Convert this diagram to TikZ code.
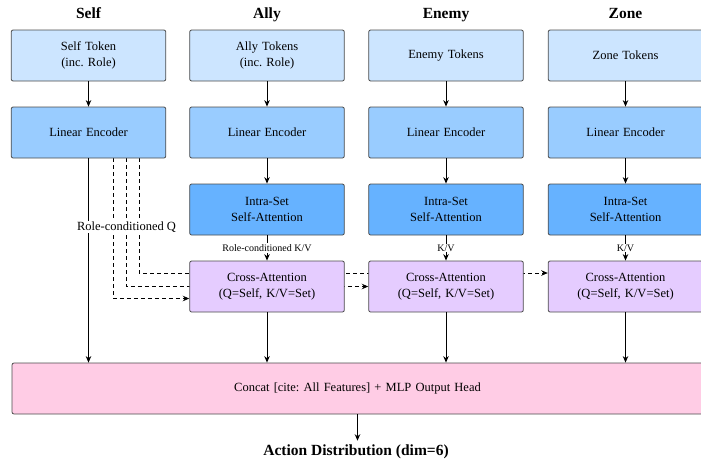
\documentclass[tikz,border=0pt]{standalone}
\usepackage{fontspec}
\setmainfont{Liberation Serif}
\usetikzlibrary{arrows.meta,positioning,backgrounds}
\frenchspacing

\definecolor{tokblue}{RGB}{204,229,255}
\definecolor{encblue}{RGB}{153,204,255}
\definecolor{attblue}{RGB}{102,178,255}
\definecolor{crosslilac}{RGB}{229,204,255}
\definecolor{headpink}{RGB}{255,204,229}

\begin{document}
\begin{tikzpicture}[x=1pt, y=1pt]
    % Stili per i nodi
    \tikzstyle{base}=[rectangle, draw=black!70, line width=0.8pt, rounded corners=2pt, minimum width=153pt, minimum height=51pt, text width=148pt, align=center, font=\fontsize{12.5}{16}\selectfont]
    \tikzstyle{token}=[base, fill=tokblue]
    \tikzstyle{encoder}=[base, fill=encblue]
    \tikzstyle{intra}=[base, fill=attblue]
    \tikzstyle{cross}=[base, fill=crosslilac]
    \tikzstyle{head}=[base, fill=headpink, minimum width=691pt, text width=600pt]
    \tikzstyle{title}=[anchor=base, font=\fontsize{15.5}{18}\selectfont\bfseries]
    \tikzstyle{kvlabel}=[fill=white, inner sep=1pt, font=\fontsize{10}{12}\selectfont]
    \tikzstyle{arrow}=[-{Stealth[length=6.5pt, width=5.5pt]}, line width=1pt, black]
    \tikzstyle{qline}=[-{Stealth[length=6.5pt, width=5.5pt]}, line width=0.9pt, black, dash pattern=on 4pt off 3pt]

    \useasboundingbox (0,0) rectangle (701,-466);

    % Titoli delle colonne
    \node[title] (tself) at (88.5,-18) {Self};
    \node[title] (tally) at (267,-18) {Ally};
    \node[title] (tenemy) at (446,-18) {Enemy};
    \node[title] (tzone) at (625.5,-18) {Zone};

    % Token di ingresso
    \node[token] (selftok) at (88.5,-55.5) {Self Token\\(inc. Role)};
    \node[token] (allytok) at (267,-55.5) {Ally Tokens\\(inc. Role)};
    \node[token] (enemytok) at (446,-55.5) {Enemy Tokens};
    \node[token] (zonetok) at (625.5,-55.5) {Zone Tokens};

    % Encoder lineari
    \node[encoder] (selfenc) at (88.5,-132.5) {Linear Encoder};
    \node[encoder] (allyenc) at (267,-132.5) {Linear Encoder};
    \node[encoder] (enemyenc) at (446,-132.5) {Linear Encoder};
    \node[encoder] (zoneenc) at (625.5,-132.5) {Linear Encoder};

    % Self-attention interna all'insieme
    \node[intra] (allyintra) at (267,-209.5) {Intra-Set\\Self-Attention};
    \node[intra] (enemyintra) at (446,-209.5) {Intra-Set\\Self-Attention};
    \node[intra] (zoneintra) at (625.5,-209.5) {Intra-Set\\Self-Attention};

    % Cross-attention
    \node[cross] (allycross) at (267,-286.5) {Cross-Attention\\(Q=Self, K/V=Set)};
    \node[cross] (enemycross) at (446,-286.5) {Cross-Attention\\(Q=Self, K/V=Set)};
    \node[cross] (zonecross) at (625.5,-286.5) {Cross-Attention\\(Q=Self, K/V=Set)};

    % Testa di uscita
    \node[head] (concat) at (357.5,-388.5) {Concat [cite: All Features] + MLP Output Head};
    \node[title] (action) at (356,-455) {Action Distribution (dim=6)};

    % Frecce verticali
    \draw[arrow] (selftok) -- (selfenc);
    \draw[arrow] (allytok) -- (allyenc);
    \draw[arrow] (enemytok) -- (enemyenc);
    \draw[arrow] (zonetok) -- (zoneenc);
    \draw[arrow] (allyenc) -- (allyintra);
    \draw[arrow] (enemyenc) -- (enemyintra);
    \draw[arrow] (zoneenc) -- (zoneintra);
    \draw[arrow] (allyintra) -- node[kvlabel] {Role-conditioned K/V} (allycross);
    \draw[arrow] (enemyintra) -- node[kvlabel] {K/V} (enemycross);
    \draw[arrow] (zoneintra) -- node[kvlabel] {K/V} (zonecross);

    % Frecce verso la testa
    \draw[arrow] (selfenc.south) -- (selfenc.south |- concat.north);
    \draw[arrow] (allycross.south) -- (allycross.south |- concat.north);
    \draw[arrow] (enemycross.south) -- (enemycross.south |- concat.north);
    \draw[arrow] (zonecross.south) -- (zonecross.south |- concat.north);
    \draw[arrow] (concat.south) -- (concat.south |- action.north);

    % Query condizionate dal ruolo (dietro ai blocchi)
    \begin{pgfonlayer}{background}
        \draw[qline] ([xshift=24.5pt]selfenc.south) |- ([yshift=-12pt]allycross.west);
        \draw[qline] ([xshift=37.5pt]selfenc.south) |- (enemycross.west);
        \draw[qline] ([xshift=50.5pt]selfenc.south) |- ([yshift=13.5pt]zonecross.west);
    \end{pgfonlayer}
    \node[fill=white, inner sep=1pt, font=\fontsize{12.5}{16}\selectfont] (qlabel) at (126.5,-227) {Role-conditioned Q};
\end{tikzpicture}
\end{document}
